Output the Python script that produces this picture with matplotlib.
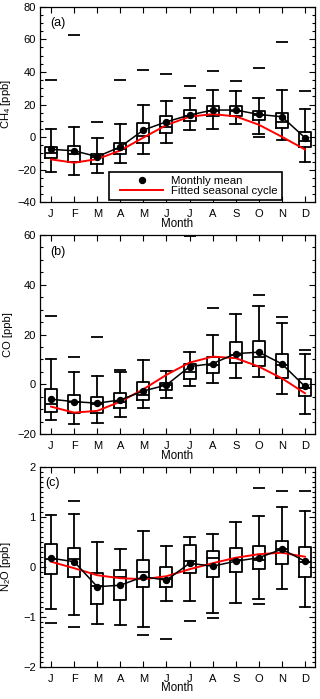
import matplotlib
matplotlib.use("Agg")
import matplotlib.pyplot as plt
from matplotlib.lines import Line2D
from matplotlib.patches import Rectangle
from matplotlib.ticker import MultipleLocator
import numpy as np

plt.rcParams['font.family'] = ['Liberation Sans', 'DejaVu Sans']
plt.rcParams['mathtext.default'] = 'regular'

months = ['J', 'F', 'M', 'A', 'M', 'J', 'J', 'A', 'S', 'O', 'N', 'D']

# Panel (a) CH4
ch4_mean = [-7.5, -8.4, -12.0, -6.0, 4.3, 9.4, 13.5, 16.6, 16.6, 13.9, 12.5, -0.4]
ch4_q1 = [-12.7, -15.5, -16.6, -10.6, -3.9, 2.7, 10.0, 12.9, 12.9, 10.4, 5.3, -5.9]
ch4_med = [-10.0, -10.4, -12.5, -7.6, 0.6, 6.3, 12.9, 16.2, 16.0, 13.5, 9.4, -2.2]
ch4_q3 = [-5.9, -5.5, -10.4, -3.9, 8.4, 12.9, 16.6, 19.0, 19.0, 16.0, 15.0, 3.3]
ch4_lo = [-21.7, -23.5, -22.3, -15.7, -10.6, -3.9, 4.3, 4.7, 7.8, 1.8, -1.8, -15.1]
ch4_hi = [4.7, 6.3, -0.4, 8.0, 20.0, 22.3, 24.0, 28.8, 28.2, 23.7, 28.8, 17.2]
ch4_out = [[35.0], [62.5], [9.2], [35.0], [41.0], [38.5], [31.3], [40.5], [34.6], [42.3, 0.2], [58.5], [28.4]]
ch4_fit = [-13.7, -15.7, -13.5, -8.2, -0.3, 7.4, 12.5, 14.1, 12.7, 7.6, 0.2, -7.6]

# Panel (b) CO
co_mean = [-6.0, -7.0, -7.6, -6.3, -2.7, -0.3, 7.1, 8.3, 12.3, 12.9, 8.2, -0.9]
co_q1 = [-11.0, -11.4, -11.4, -9.7, -6.3, -2.3, 2.0, 4.7, 8.4, 7.4, 2.4, -4.6]
co_med = [-7.9, -7.2, -7.9, -7.0, -4.5, -0.3, 5.1, 7.8, 11.8, 10.9, 7.8, -1.6]
co_q3 = [-2.0, -4.3, -5.0, -3.6, 0.8, 0.7, 8.2, 11.1, 16.8, 17.4, 12.1, 2.1]
co_lo = [-14.4, -16.1, -15.4, -13.0, -9.7, -5.4, -0.5, 0.7, 2.4, 2.8, -3.9, -11.9]
co_hi = [10.2, 4.8, 3.4, 5.1, 9.8, 5.5, 13.0, 19.8, 28.2, 31.5, 24.8, 12.2]
co_out = [[27.6], [11.1], [19.0], [5.8], [], [], [59.5], [30.6], [], [35.9], [26.9], [13.8]]
co_fit = [-9.0, -11.4, -10.7, -7.0, -2.0, 3.8, 8.7, 11.1, 10.5, 7.1, 2.4, -3.6]

# Panel (c) N2O
n2o_mean = [0.17, 0.10, -0.40, -0.37, -0.20, -0.27, 0.07, 0.01, 0.11, 0.18, 0.35, 0.11]
n2o_q1 = [-0.15, -0.20, -0.75, -0.67, -0.41, -0.40, -0.13, -0.20, -0.11, -0.04, 0.05, -0.21]
n2o_med = [0.15, 0.15, -0.38, -0.21, -0.11, -0.25, 0.11, 0.17, 0.13, 0.13, 0.35, 0.10]
n2o_q3 = [0.45, 0.38, -0.13, -0.07, 0.13, 0.0, 0.43, 0.32, 0.38, 0.41, 0.52, 0.40]
n2o_lo = [-0.85, -0.97, -1.15, -1.17, -1.20, -0.69, -0.69, -0.92, -0.72, -0.65, -0.45, -0.81]
n2o_hi = [1.03, 1.05, 0.49, 0.35, 0.71, 0.42, 0.60, 0.65, 0.90, 1.01, 1.19, 1.12]
n2o_out = [[-1.13, 1.73], [1.32, -1.20], [], [], [-1.37], [-1.45], [-1.08], [-1.03], [], [1.58, -0.75], [1.52], [1.52]]
n2o_fit = [0.10, -0.03, -0.17, -0.23, -0.25, -0.19, -0.05, 0.07, 0.18, 0.25, 0.28, 0.20]

fig = plt.figure(figsize=(3.2, 6.99), dpi=100)

panels = [
    dict(rect=[0.125, 0.7106, 0.859, 0.2798], mean=ch4_mean, q1=ch4_q1, med=ch4_med, q3=ch4_q3,
         lo=ch4_lo, hi=ch4_hi, out=ch4_out, fit=ch4_fit, ylim=(-40, 80), major=20, minor=5,
         ylabel='CH$_4$ [ppb]', label='(a)', lx=0.036),
    dict(rect=[0.125, 0.3791, 0.859, 0.2847], mean=co_mean, q1=co_q1, med=co_med, q3=co_q3,
         lo=co_lo, hi=co_hi, out=co_out, fit=co_fit, ylim=(-20, 60), major=20, minor=5,
         ylabel='CO [ppb]', label='(b)', lx=0.036),
    dict(rect=[0.125, 0.0462, 0.859, 0.2861], mean=n2o_mean, q1=n2o_q1, med=n2o_med, q3=n2o_q3,
         lo=n2o_lo, hi=n2o_hi, out=n2o_out, fit=n2o_fit, ylim=(-2, 2), major=1, minor=0.1,
         ylabel='N$_2$O [ppb]', label='(c)', lx=0.02),
]

x = np.arange(1, 13)
lw = 1.3

for i, p in enumerate(panels):
    ax = fig.add_axes(p['rect'])
    stats = []
    for k in range(12):
        stats.append(dict(med=p['med'][k], q1=p['q1'][k], q3=p['q3'][k],
                          whislo=p['lo'][k], whishi=p['hi'][k], fliers=p['out'][k]))
    ax.bxp(stats, positions=x, widths=0.52, capwidths=0.46, showfliers=True,
           boxprops=dict(color='black', linewidth=lw),
           medianprops=dict(color='black', linewidth=lw),
           whiskerprops=dict(color='black', linewidth=lw),
           capprops=dict(color='black', linewidth=lw),
           flierprops=dict(marker='_', markersize=8, markeredgewidth=lw,
                           markeredgecolor='black', linestyle='none'),
           manage_ticks=False, zorder=2)
    ax.plot(x, p['mean'], color='black', linewidth=1.1, marker='o', markersize=4.3, zorder=4)
    ax.plot(x, p['fit'], color='red', linewidth=1.4, zorder=3)

    ax.set_xlim(0.52, 12.43)
    ax.set_ylim(*p['ylim'])
    ax.set_xticks(x)
    ax.set_xticklabels(months)
    ax.yaxis.set_major_locator(MultipleLocator(p['major']))
    ax.yaxis.set_minor_locator(MultipleLocator(p['minor']))
    ax.tick_params(which='both', direction='in', top=True, right=True, labelsize=8, width=0.8)
    ax.tick_params(which='major', length=4.5)
    ax.tick_params(which='minor', length=2.2)
    ax.tick_params(axis='x', pad=5)
    ax.tick_params(axis='y', pad=3)
    for s in ax.spines.values():
        s.set_linewidth(0.9)
    ax.set_xlabel('Month', fontsize=8.3, labelpad=-1)
    ax.set_ylabel(p['ylabel'], fontsize=8)
    ax.yaxis.set_label_coords(-0.097, 0.5)
    ax.text(p['lx'], 0.917, p['label'], transform=ax.transAxes, fontsize=9,
            ha='left', va='center', zorder=6,
            bbox=dict(facecolor='white', edgecolor='none', pad=0.2))

    if i == 0:
        ax.add_patch(Rectangle((0.251, 0.012), 0.629, 0.143, transform=ax.transAxes,
                               facecolor='white', edgecolor='black', linewidth=1.2, zorder=5))
        handles = [Line2D([], [], marker='o', linestyle='none', color='black', markersize=4.3),
                   Line2D([], [], color='red', linewidth=1.4)]
        leg = ax.legend(handles, ['Monthly mean', 'Fitted seasonal cycle'],
                        loc='center left', bbox_to_anchor=(0.291, 0.0835),
                        fontsize=8.2, frameon=False, handlelength=3.8,
                        handletextpad=0.7, labelspacing=0.0, borderpad=0,
                        borderaxespad=0)
        leg.set_zorder(6)

fig.savefig('out.png', dpi=100)
